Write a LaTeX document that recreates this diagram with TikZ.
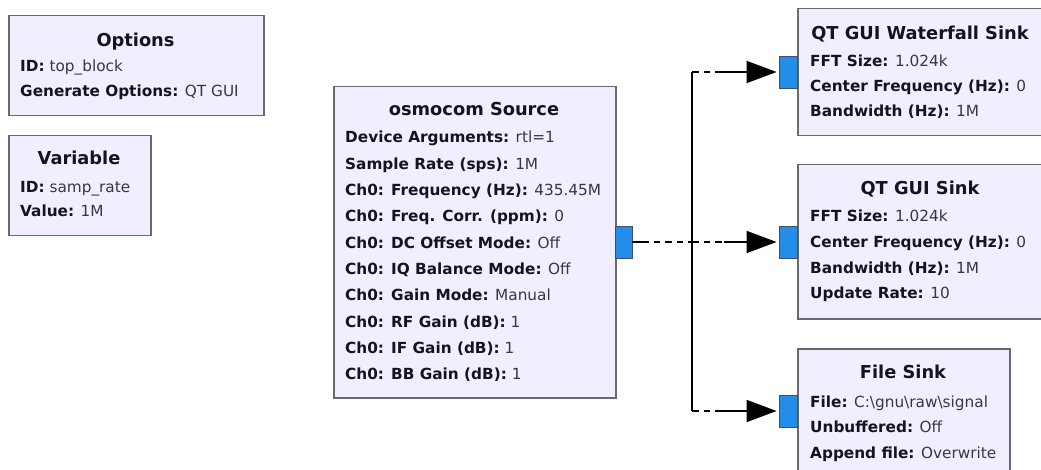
\documentclass[tikz,border=0pt]{standalone}
\usepackage{fontspec}
\setmainfont{DejaVu Sans}
\usetikzlibrary{arrows.meta}
\definecolor{blockfill}{RGB}{241,238,255}
\definecolor{blockline}{RGB}{105,105,110}
\definecolor{portfill}{RGB}{35,142,232}
\definecolor{portline}{RGB}{60,80,110}
\definecolor{keytext}{RGB}{20,20,30}
\definecolor{valtext}{RGB}{55,55,65}
\newcommand{\kv}[2]{\textcolor{keytext}{\bfseries #1} #2}
\tikzset{
  block/.style={draw=blockline, fill=blockfill, line width=1.5pt, inner sep=0pt, anchor=north west},
  port/.style={draw=portline, fill=portfill, line width=0.8pt, inner sep=0pt, minimum width=17pt, minimum height=32pt},
  title/.style={font=\fontsize{17.8}{20}\selectfont\bfseries, text=keytext, anchor=base, inner sep=0pt},
  body/.style={font=\fontsize{15.3}{18}\selectfont, text=valtext, anchor=base west, inner sep=0pt},
  wire/.style={line width=1.7pt, draw=black},
  dashwire/.style={wire, dash pattern=on 6.5pt off 5pt},
  arrowwire/.style={wire, -{Triangle[length=30pt,width=22pt]}, shorten >=2pt}
}
\begin{document}
\begin{tikzpicture}[x=1pt,y=-1pt]
\useasboundingbox[fill=white] (0,0) rectangle (1041,470);

% Options
\node[block, minimum width=255pt, minimum height=100pt] (opt) at (8,15) {};
\node[title] (optT) at (135.5,47) {Options};
\foreach \t [count=\i] in {{\kv{ID:}{top\_block}},{\kv{Generate Options:}{QT GUI}}}
  \node[body] (opt-\i) at (20,{72+(\i-1)*24.5}) {\t};

% Variable
\node[block, minimum width=142pt, minimum height=100pt] (var) at (8,135) {};
\node[title] (varT) at (79,165) {Variable};
\foreach \t [count=\i] in {{\kv{ID:}{samp\_rate}},{\kv{Value:}{1M}}}
  \node[body] (var-\i) at (20,{193+(\i-1)*24}) {\t};

% osmocom Source
\node[block, minimum width=282pt, minimum height=311pt] (osm) at (333,86) {};
\node[title] (osmT) at (474,116) {osmocom Source};
\foreach \t [count=\i] in {
  {\kv{Device Arguments:}{rtl=1}},
  {\kv{Sample Rate (sps):}{1M}},
  {\kv{Ch0: Frequency (Hz):}{435.45M}},
  {\kv{Ch0: Freq. Corr. (ppm):}{0}},
  {\kv{Ch0: DC Offset Mode:}{Off}},
  {\kv{Ch0: IQ Balance Mode:}{Off}},
  {\kv{Ch0: Gain Mode:}{Manual}},
  {\kv{Ch0: RF Gain (dB):}{1}},
  {\kv{Ch0: IF Gain (dB):}{1}},
  {\kv{Ch0: BB Gain (dB):}{1}}}
  \node[body] (osm-\i) at (345,{143+(\i-1)*26.3}) {\t};

% QT GUI Waterfall Sink
\node[block, minimum width=246pt, minimum height=127pt] (wf) at (797,8) {};
\node[title] (wfT) at (920,40) {QT GUI Waterfall Sink};
\foreach \t [count=\i] in {
  {\kv{FFT Size:}{1.024k}},
  {\kv{Center Frequency (Hz):}{0}},
  {\kv{Bandwidth (Hz):}{1M}}}
  \node[body] (wf-\i) at (810,{67+(\i-1)*25}) {\t};

% QT GUI Sink
\node[block, minimum width=246pt, minimum height=154pt] (gs) at (797,164) {};
\node[title] (gsT) at (920,195) {QT GUI Sink};
\foreach \t [count=\i] in {
  {\kv{FFT Size:}{1.024k}},
  {\kv{Center Frequency (Hz):}{0}},
  {\kv{Bandwidth (Hz):}{1M}},
  {\kv{Update Rate:}{10}}}
  \node[body] (gs-\i) at (810,{221.5+(\i-1)*25.8}) {\t};

% File Sink
\node[block, minimum width=212pt, minimum height=135pt] (fs) at (797,348) {};
\node[title] (fsT) at (903,378) {File Sink};
\foreach \t [count=\i] in {
  {\kv{File:}{C:\textbackslash gnu\textbackslash raw\textbackslash signal}},
  {\kv{Unbuffered:}{Off}},
  {\kv{Append file:}{Overwrite}}}
  \node[body] (fs-\i) at (810,{407+(\i-1)*25.5}) {\t};

% junction coordinates
\coordinate (s1) at (642,242);
\coordinate (j) at (692,242);
\coordinate (t1) at (692,72);
\coordinate (t1s) at (717,72);
\coordinate (b1) at (692,411);
\coordinate (b1s) at (720,411);
\coordinate (m1s) at (724,242);

% ports
\node[port] (srcp) at (623.5,242) {};
\node[port, minimum width=18pt] (wfp) at (788,72) {};
\node[port, minimum width=18pt] (gsp) at (788,242) {};
\node[port, minimum width=18pt] (fsp) at (788,411) {};

% connections
\draw[wire] (srcp.east) -- (s1);
\draw[dashwire] (s1) -- (j);
\draw[wire] (j) -- (t1);
\draw[wire] (j) -- (b1);
\draw[dashwire] (t1) -- (t1s);
\draw[arrowwire] (t1s) -- (wfp.west);
\draw[dashwire] (j) -- (m1s);
\draw[arrowwire] (m1s) -- (gsp.west);
\draw[dashwire] (b1) -- (b1s);
\draw[arrowwire] (b1s) -- (fsp.west);
\end{tikzpicture}
\end{document}
